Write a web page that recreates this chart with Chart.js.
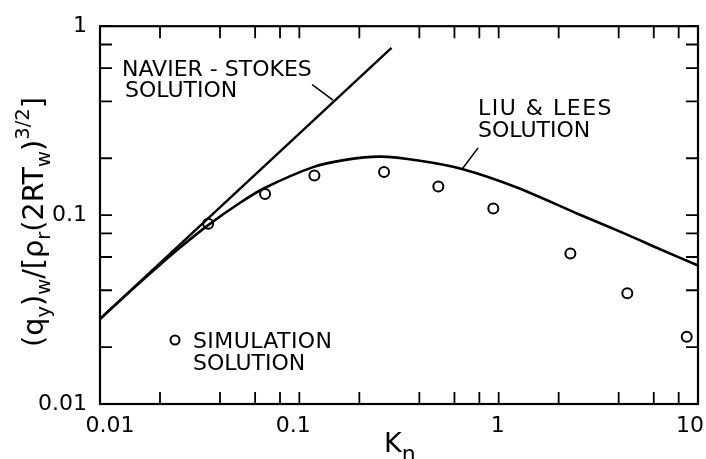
<!DOCTYPE html>
<html>
<head>
<meta charset="utf-8">
<script src="https://cdn.jsdelivr.net/npm/chart.js@4.4.1/dist/chart.umd.min.js"></script>
<style>
  html, body { margin: 0; padding: 0; background: #fff; }
  #wrap { width: 706px; height: 459px; }
</style>
</head>
<body>
<div id="wrap"><canvas id="myChart" width="706" height="459"></canvas></div>
<script>
// Knudsen number vs wall heat flux
const nsKn = [0.01, 0.29]
const nsQ = [0.0282, 0.767]

const liuKn = [0.01, 0.015, 0.02, 0.0263, 0.0349, 0.05, 0.0673, 0.1172, 0.17, 0.254, 0.403, 0.662, 1.236, 2.47, 4.41, 6.45, 10]
const liuQ = [0.0282, 0.0417, 0.0546, 0.0698, 0.0885, 0.1155, 0.1395, 0.1795, 0.196, 0.204, 0.194, 0.175, 0.140, 0.102, 0.0788, 0.066, 0.0541]

const simKn = [0.0349, 0.0673, 0.119, 0.266, 0.498, 0.94, 2.29, 4.42, 8.78]
const simQ = [0.0899, 0.1294, 0.1622, 0.169, 0.1416, 0.1083, 0.0627, 0.0386, 0.0227]

const xTicks = [0.01, 0.02, 0.04, 0.06, 0.08, 0.1, 0.2, 0.4, 0.6, 0.8, 1, 2, 4, 6, 8, 10]
const yTicks = [0.01, 0.02, 0.04, 0.06, 0.08, 0.1, 0.2, 0.4, 0.6, 0.8, 1]
const xLabels = ['0.01', '0.1', '1', '10']
const xLabelVals = [0.01, 0.1, 1, 10]
const xLabelShift = [10, -6, -1, -8]
const yLabels = {0.01: '0.01', 0.1: '0.1', 1: '1'}

const FONT = '"DejaVu Sans", sans-serif'

function pts(xs, ys) {
  return xs.map((x, i) => ({x: x, y: ys[i]}))
}

function drawRich(ctx, pieces, x, y) {
  let cx = x
  for (const p of pieces) {
    ctx.font = p.s + 'px ' + FONT
    ctx.fillText(p.t, cx, y + (p.dy || 0))
    cx += ctx.measureText(p.t).width
  }
}
function richWidth(ctx, pieces) {
  let w = 0
  for (const p of pieces) {
    ctx.font = p.s + 'px ' + FONT
    w += ctx.measureText(p.t).width
  }
  return w
}
function label(ctx, txt, x, y, spacing) {
  ctx.letterSpacing = (spacing || 0) + 'px'
  ctx.fillText(txt, x, y)
  ctx.letterSpacing = '0px'
}

const decor = {
  id: 'decor',
  afterDraw(chart) {
    const ctx = chart.ctx
    const a = chart.chartArea
    const xs = chart.scales.x, ys = chart.scales.y
    ctx.save()
    ctx.strokeStyle = '#000'
    ctx.fillStyle = '#000'
    ctx.lineWidth = 2.2
    ctx.strokeRect(a.left, a.top, a.right - a.left, a.bottom - a.top)

    // inward ticks on all four sides
    const tl = 12
    ctx.lineWidth = 1.8
    ctx.beginPath()
    xTicks.forEach(v => {
      const px = xs.getPixelForValue(v)
      ctx.moveTo(px, a.bottom); ctx.lineTo(px, a.bottom - tl)
      ctx.moveTo(px, a.top); ctx.lineTo(px, a.top + tl)
    })
    yTicks.forEach(v => {
      const py = ys.getPixelForValue(v)
      ctx.moveTo(a.left, py); ctx.lineTo(a.left + tl, py)
      ctx.moveTo(a.right, py); ctx.lineTo(a.right - tl, py)
    })
    ctx.stroke()

    // x tick labels
    ctx.font = '22px ' + FONT
    ctx.textAlign = 'center'
    ctx.textBaseline = 'alphabetic'
    xLabelVals.forEach((v, i) => {
      ctx.fillText(xLabels[i], xs.getPixelForValue(v) + xLabelShift[i], 432)
    })

    // x title
    ctx.textAlign = 'left'
    drawRich(ctx, [{t: 'K', s: 27}, {t: 'n', s: 22, dy: 9}], 384, 452)

    // y title
    const yt = [
      {t: '(q', s: 22}, {t: 'y', s: 15, dy: 5}, {t: ')', s: 22}, {t: 'w', s: 15, dy: 5},
      {t: '/[', s: 22}, {t: 'ρ', s: 22}, {t: 'r', s: 15, dy: 5}, {t: '(2RT', s: 22},
      {t: 'w', s: 15, dy: 5}, {t: ')', s: 22}, {t: '3/2', s: 15, dy: -11}, {t: ']', s: 22}
    ]
    const k = 250 / richWidth(ctx, yt)
    yt.forEach(p => { p.s = p.s * k; if (p.dy) p.dy = p.dy * k })
    ctx.save()
    ctx.translate(43, 222)
    ctx.rotate(-Math.PI / 2)
    drawRich(ctx, yt, -richWidth(ctx, yt) / 2, 0)
    ctx.restore()

    // annotations
    ctx.font = '22px ' + FONT
    label(ctx, 'NAVIER - STOKES', 122, 76, 0)
    label(ctx, 'SOLUTION', 125, 97, 0)
    label(ctx, 'LIU & LEES', 478, 115, 1.5)
    label(ctx, 'SOLUTION', 478, 137, 0)
    label(ctx, 'SIMULATION', 193, 348, 0.4)
    label(ctx, 'SOLUTION', 193, 370, 0)

    // leader lines (data coordinates)
    ctx.lineWidth = 1.5
    ctx.beginPath()
    ctx.moveTo(xs.getPixelForValue(0.116), ys.getPixelForValue(0.491))
    ctx.lineTo(xs.getPixelForValue(0.1476), ys.getPixelForValue(0.406))
    ctx.moveTo(xs.getPixelForValue(0.788), ys.getPixelForValue(0.227))
    ctx.lineTo(xs.getPixelForValue(0.655), ys.getPixelForValue(0.175))
    ctx.stroke()

    // legend marker
    ctx.lineWidth = 2
    ctx.beginPath()
    ctx.arc(175, 340, 4.5, 0, Math.PI * 2)
    ctx.stroke()
    ctx.restore()
  }
}

new Chart(document.getElementById('myChart'), {
  type: 'line',
  data: {
    datasets: [
      {
        label: 'Navier-Stokes',
        data: pts(nsKn, nsQ),
        borderColor: '#000',
        borderWidth: 2.4,
        pointRadius: 0,
        tension: 0
      },
      {
        label: 'Liu & Lees',
        data: pts(liuKn, liuQ),
        borderColor: '#000',
        borderWidth: 2.6,
        pointRadius: 0,
        tension: 0.3
      },
      {
        label: 'Simulation',
        data: pts(simKn, simQ),
        showLine: false,
        pointStyle: 'circle',
        pointRadius: 5,
        pointBorderWidth: 2,
        pointBorderColor: '#000',
        pointBackgroundColor: '#fff'
      }
    ]
  },
  options: {
    responsive: false,
    animation: false,
    layout: { padding: { left: 0, right: 8, top: 16, bottom: 0 } },
    plugins: { legend: { display: false }, tooltip: { enabled: false } },
    scales: {
      x: {
        type: 'logarithmic',
        min: 0.01,
        max: 10,
        grid: { display: false, drawTicks: false },
        border: { display: false },
        ticks: { display: false },
        afterBuildTicks: s => { s.ticks = xTicks.map(v => ({value: v})) },
        afterFit: s => { s.height = 55 }
      },
      y: {
        type: 'logarithmic',
        min: 0.01,
        max: 1,
        grid: { display: false, drawTicks: false },
        border: { display: false },
        afterBuildTicks: s => { s.ticks = yTicks.map(v => ({value: v})) },
        afterFit: s => { s.width = 100 },
        ticks: {
          autoSkip: false,
          padding: 13,
          color: '#000',
          font: { family: FONT, size: 22 },
          callback: v => yLabels[v] || ''
        }
      }
    }
  },
  plugins: [decor]
})
</script>
</body>
</html>
